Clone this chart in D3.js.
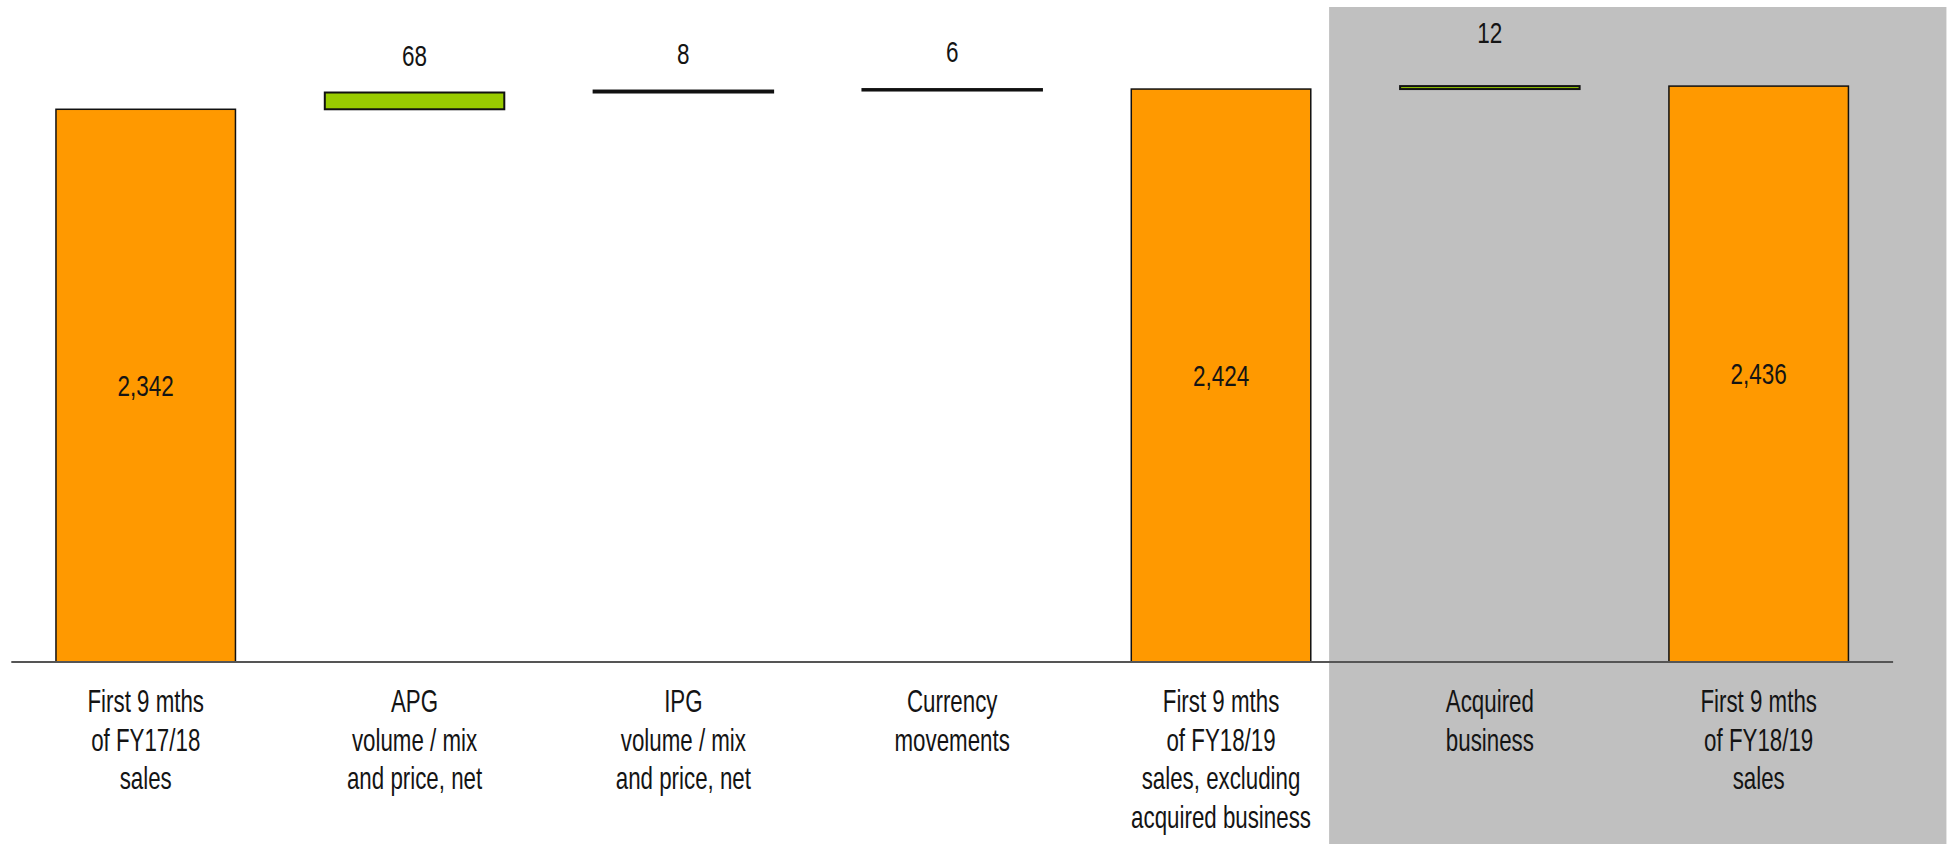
<!DOCTYPE html>
<html>
<head>
<meta charset="utf-8">
<script src="https://cdn.jsdelivr.net/npm/d3@7"></script>
<style>
  html, body { margin: 0; padding: 0; background: #ffffff; }
  svg { display: block; }
  text { font-family: "Liberation Sans", Arial, sans-serif; fill: #141414; }
</style>
</head>
<body>
<svg id="chart" width="1954" height="844"></svg>
<script>
// Sales bridge, first nine months FY17/18 to FY18/19
const categories = [
  ["First 9 mths", "of FY17/18", "sales"],
  ["APG", "volume / mix", "and price, net"],
  ["IPG", "volume / mix", "and price, net"],
  ["Currency", "movements"],
  ["First 9 mths", "of FY18/19", "sales, excluding", "acquired business"],
  ["Acquired", "business"],
  ["First 9 mths", "of FY18/19", "sales"]
];
// "total" bars stand on the axis, "delta" bars float on the running total
const kinds  = ["total", "delta", "delta", "delta", "total", "delta", "total"];
const values = [2342, 68, 8, 6, 2424, 12, 2436];
const valueLabels = ["2,342", "68", "8", "6", "2,424", "12", "2,436"];
// categories sitting on the grey panel
const shaded = [false, false, false, false, false, true, true];

const W = 1954, H = 844;
const svg = d3.select("#chart");

const x = d3.scaleBand()
  .domain(d3.range(categories.length))
  .range([11.3, 1893.1])
  .paddingInner(0.3323)
  .paddingOuter(0.3323 / 2);
const cx = i => x(i) + x.bandwidth() / 2;

// value axis starts above zero, as in the source slide
const axisFloor = 100;
const y = d3.scaleLinear().domain([axisFloor, 2436]).range([662, 86.1]);

// running totals for the floating bars
let running = 0;
const bars = values.map((v, i) => {
  let lo, hi;
  if (kinds[i] === "total") { lo = axisFloor; hi = v; running = v; }
  else { lo = running; hi = running + v; running = hi; }
  return { i, v, lo, hi, kind: kinds[i], label: valueLabels[i] };
});

// grey panel behind the acquired-business columns
const firstShaded = shaded.indexOf(true);
const lastShaded = shaded.lastIndexOf(true);
svg.append("rect")
  .attr("x", x(firstShaded) - 71)
  .attr("y", 7)
  .attr("width", x(lastShaded) + x.bandwidth() + 98 - (x(firstShaded) - 71))
  .attr("height", H - 7)
  .attr("fill", "#c0c0c0");

// bars
svg.append("g").selectAll("rect")
  .data(bars)
  .join("rect")
  .attr("x", d => x(d.i))
  .attr("width", x.bandwidth())
  .attr("y", d => y(d.hi))
  .attr("height", d => y(d.lo) - y(d.hi))
  .attr("fill", d => d.kind === "total" ? "#ff9900" : "#99cc00")
  .attr("stroke", "#111111")
  .attr("stroke-width", d => d.kind === "total" ? 1.5 : 2);

// baseline
svg.append("line")
  .attr("x1", x.range()[0]).attr("x2", x.range()[1])
  .attr("y1", y(axisFloor)).attr("y2", y(axisFloor))
  .attr("stroke", "#555555")
  .attr("stroke-width", 2.2);

// value labels: inside the totals, above the changes (narrow face via x-squeeze)
svg.append("g").selectAll("text")
  .data(bars)
  .join("text")
  .attr("transform", d => {
    const ty = d.kind === "total"
      ? (y(d.lo) + y(d.hi)) / 2
      : y(d.hi) - (shaded[d.i] ? 53 : 37);
    return `translate(${cx(d.i)},${ty}) scale(0.75,1)`;
  })
  .attr("text-anchor", "middle")
  .attr("dominant-baseline", "central")
  .attr("font-size", 30)
  .text(d => d.label);

// category labels
const cat = svg.append("g").selectAll("text")
  .data(categories)
  .join("text")
  .attr("transform", (d, i) => `translate(${cx(i)},712) scale(0.72,1)`)
  .attr("text-anchor", "middle")
  .attr("font-size", 31);
cat.selectAll("tspan")
  .data(d => d)
  .join("tspan")
  .attr("x", 0)
  .attr("dy", (d, k) => k === 0 ? 0 : 38.7)
  .text(d => d);
</script>
</body>
</html>
